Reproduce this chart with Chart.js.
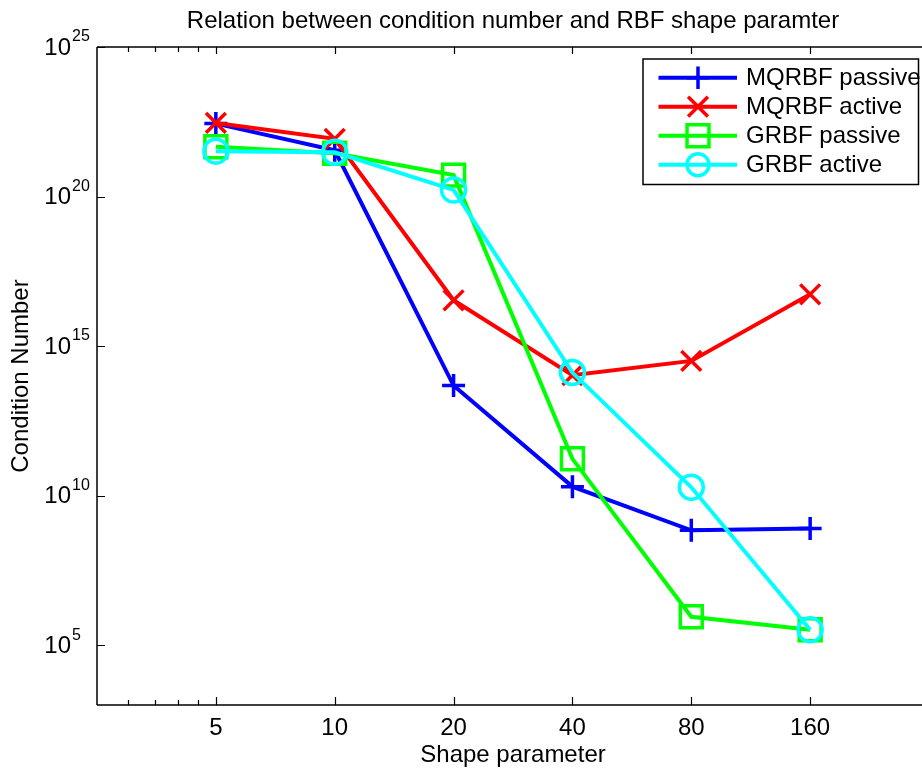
<!DOCTYPE html>
<html>
<head>
<meta charset="utf-8">
<script src="https://cdn.jsdelivr.net/npm/chart.js@4.4.1/dist/chart.umd.min.js"></script>
<style>
  html, body { margin: 0; padding: 0; background: #fff; overflow: hidden; width: 922px; height: 768px; }
  canvas { display: block; }
</style>
</head>
<body>
<canvas id="c" width="929" height="768"></canvas>
<script>
// ---- data ----
const shapeParams = [5, 10, 20, 40, 80, 160];
const xMajorTicks = [5, 10, 20, 40, 80, 160];
const xMinorTicks = [3, 3.5, 4, 4.5];
const yTickExponents = [5, 10, 15, 20, 25];
const seriesNames = ['MQRBF passive', 'MQRBF active', 'GRBF passive', 'GRBF active'];
const mqrbfPassive = [2.75e22, 3.5e21, 4.8e13, 2.0e10, 6.9e8, 7.9e8];
const mqrbfActive  = [2.9e22, 8.5e21, 3.4e16, 1.07e14, 3.2e14, 5.4e16];
const grbfPassive  = [4.6e21, 2.8e21, 5.2e20, 1.7e11, 8.9e5, 3.3e5];
const grbfActive   = [3.3e21, 3.0e21, 1.66e20, 1.3e14, 1.9e10, 3.3e5];
const titleText = 'Relation between condition number and RBF shape paramter';
const xTitle = 'Shape parameter';
const yTitle = 'Condition Number';

const FONT = "'Liberation Sans', Arial, Helvetica, sans-serif";
Chart.defaults.font.family = FONT;
Chart.defaults.color = '#000';

const styles = [
  { color: '#0000ff', pointStyle: 'cross', radius: 11.5, order: 4 },
  { color: '#ff0000', pointStyle: 'crossRot', radius: 14, order: 3 },
  { color: '#00ff00', pointStyle: 'rect', radius: 15.5, order: 2 },
  { color: '#00ffff', pointStyle: 'circle', radius: 12, order: 1 }
];
const allSeries = [mqrbfPassive, mqrbfActive, grbfPassive, grbfActive];

const datasets = allSeries.map((vals, i) => ({
  label: seriesNames[i],
  data: shapeParams.map((x, j) => ({ x: x, y: vals[j] })),
  borderColor: styles[i].color,
  backgroundColor: 'rgba(0,0,0,0)',
  borderWidth: 4,
  pointStyle: styles[i].pointStyle,
  pointRadius: styles[i].radius,
  pointHoverRadius: styles[i].radius,
  pointBorderColor: styles[i].color,
  pointBackgroundColor: 'rgba(0,0,0,0)',
  pointBorderWidth: 3.5,
  tension: 0,
  order: styles[i].order,
  clip: false
}));

function drawMarker(ctx, style, x, y, r, color) {
  ctx.save();
  ctx.strokeStyle = color;
  ctx.lineWidth = 3.5;
  ctx.beginPath();
  if (style === 'cross') {
    ctx.moveTo(x - r, y); ctx.lineTo(x + r, y);
    ctx.moveTo(x, y - r); ctx.lineTo(x, y + r);
  } else if (style === 'crossRot') {
    const d = r * Math.SQRT1_2;
    ctx.moveTo(x - d, y - d); ctx.lineTo(x + d, y + d);
    ctx.moveTo(x - d, y + d); ctx.lineTo(x + d, y - d);
  } else if (style === 'rect') {
    const s = r * Math.SQRT1_2;
    ctx.rect(x - s, y - s, 2 * s, 2 * s);
  } else {
    ctx.arc(x, y, r, 0, Math.PI * 2);
  }
  ctx.stroke();
  ctx.restore();
}

const matlabAxes = {
  id: 'matlabAxes',
  afterDraw(chart) {
    const ctx = chart.ctx;
    const a = chart.chartArea;
    const xs = chart.scales.x, ys = chart.scales.y;
    ctx.save();
    ctx.strokeStyle = '#000';
    ctx.lineWidth = 1.5;
    // box lines (top, left, bottom)
    ctx.beginPath();
    ctx.moveTo(a.left, a.top); ctx.lineTo(a.right, a.top);
    ctx.moveTo(a.left, a.top); ctx.lineTo(a.left, a.bottom);
    ctx.moveTo(a.left, a.bottom); ctx.lineTo(a.right, a.bottom);
    ctx.stroke();
    // x ticks
    ctx.lineWidth = 1.2;
    ctx.beginPath();
    xMajorTicks.forEach(v => {
      const px = Math.round(xs.getPixelForValue(v)) + 0.5;
      ctx.moveTo(px, a.bottom); ctx.lineTo(px, a.bottom - 8);
      ctx.moveTo(px, a.top); ctx.lineTo(px, a.top + 7);
    });
    xMinorTicks.forEach(v => {
      const px = Math.round(xs.getPixelForValue(v)) + 0.5;
      ctx.moveTo(px, a.bottom); ctx.lineTo(px, a.bottom - 5);
      ctx.moveTo(px, a.top); ctx.lineTo(px, a.top + 5);
    });
    yTickExponents.forEach(e => {
      const py = Math.round(ys.getPixelForValue(Math.pow(10, e))) + 0.5;
      ctx.moveTo(a.left, py); ctx.lineTo(a.left + 8, py);
    });
    ctx.stroke();
    // y tick labels 10^n
    ctx.fillStyle = '#000';
    ctx.textBaseline = 'middle';
    yTickExponents.forEach(e => {
      const py = ys.getPixelForValue(Math.pow(10, e));
      ctx.font = '24px ' + FONT;
      ctx.textAlign = 'right';
      ctx.fillText('10', a.left - 26, py + 1);
      ctx.font = '16px ' + FONT;
      ctx.textAlign = 'left';
      ctx.fillText(String(e), a.left - 25, py - 10);
    });
    // legend
    const lx = a.right - 286, ly = a.top + 12, lw = 275.5, lh = 125.5;
    ctx.fillStyle = '#fff';
    ctx.fillRect(lx, ly, lw, lh);
    ctx.strokeStyle = '#000';
    ctx.lineWidth = 1.5;
    ctx.strokeRect(lx, ly, lw, lh);
    const legendRadii = [11.3, 14, 15.5, 11];
    chart.data.datasets.forEach((ds, i) => {
      const ry = ly + 18.7 + i * 29;
      ctx.strokeStyle = ds.borderColor;
      ctx.lineWidth = 4;
      ctx.beginPath();
      ctx.moveTo(lx + 15.5, ry); ctx.lineTo(lx + 94, ry);
      ctx.stroke();
      drawMarker(ctx, ds.pointStyle, lx + 55, ry, legendRadii[i], ds.borderColor);
      ctx.fillStyle = '#000';
      ctx.font = '24px ' + FONT;
      ctx.textAlign = 'left';
      ctx.textBaseline = 'middle';
      ctx.fillText(ds.label, lx + 103, ry + 1);
    });
    ctx.restore();
  }
};

new Chart(document.getElementById('c'), {
  type: 'line',
  data: { datasets: datasets },
  options: {
    responsive: false,
    animation: false,
    events: [],
    layout: { autoPadding: false, padding: { left: 0, right: 0, top: 0, bottom: 0 } },
    plugins: {
      legend: { display: false },
      tooltip: { enabled: false },
      title: {
        display: true,
        fullSize: false,
        text: titleText,
        color: '#000',
        font: { size: 24, weight: 'normal', family: FONT, lineHeight: 1.2 },
        padding: { top: 7, bottom: 11.2 }
      }
    },
    scales: {
      x: {
        type: 'logarithmic',
        position: 'bottom',
        min: 2.5,
        max: 320,
        afterBuildTicks: s => { s.ticks = xMajorTicks.map(v => ({ value: v })); },
        afterFit: s => { s.height = 63; s.paddingLeft = 0; s.paddingRight = 0; },
        grid: { display: false, drawTicks: false },
        border: { display: false },
        ticks: {
          autoSkip: false,
          maxRotation: 0,
          padding: 9,
          color: '#000',
          font: { size: 24, family: FONT },
          callback: v => String(v)
        },
        title: {
          display: true,
          text: xTitle,
          color: '#000',
          font: { size: 24, family: FONT, lineHeight: 1.05 },
          padding: { top: 0, bottom: 0 }
        }
      },
      y: {
        type: 'logarithmic',
        min: 1e3,
        max: 1e25,
        afterBuildTicks: s => { s.ticks = yTickExponents.map(e => ({ value: Math.pow(10, e) })); },
        afterFit: s => { s.width = 97; s.paddingTop = 0; s.paddingBottom = 0; },
        grid: { display: false, drawTicks: false },
        border: { display: false },
        ticks: { display: false },
        title: {
          display: true,
          text: yTitle,
          color: '#000',
          font: { size: 24, family: FONT, lineHeight: 1.2 },
          padding: { top: 7, bottom: 0 }
        }
      }
    }
  },
  plugins: [matlabAxes]
});
</script>
</body>
</html>
